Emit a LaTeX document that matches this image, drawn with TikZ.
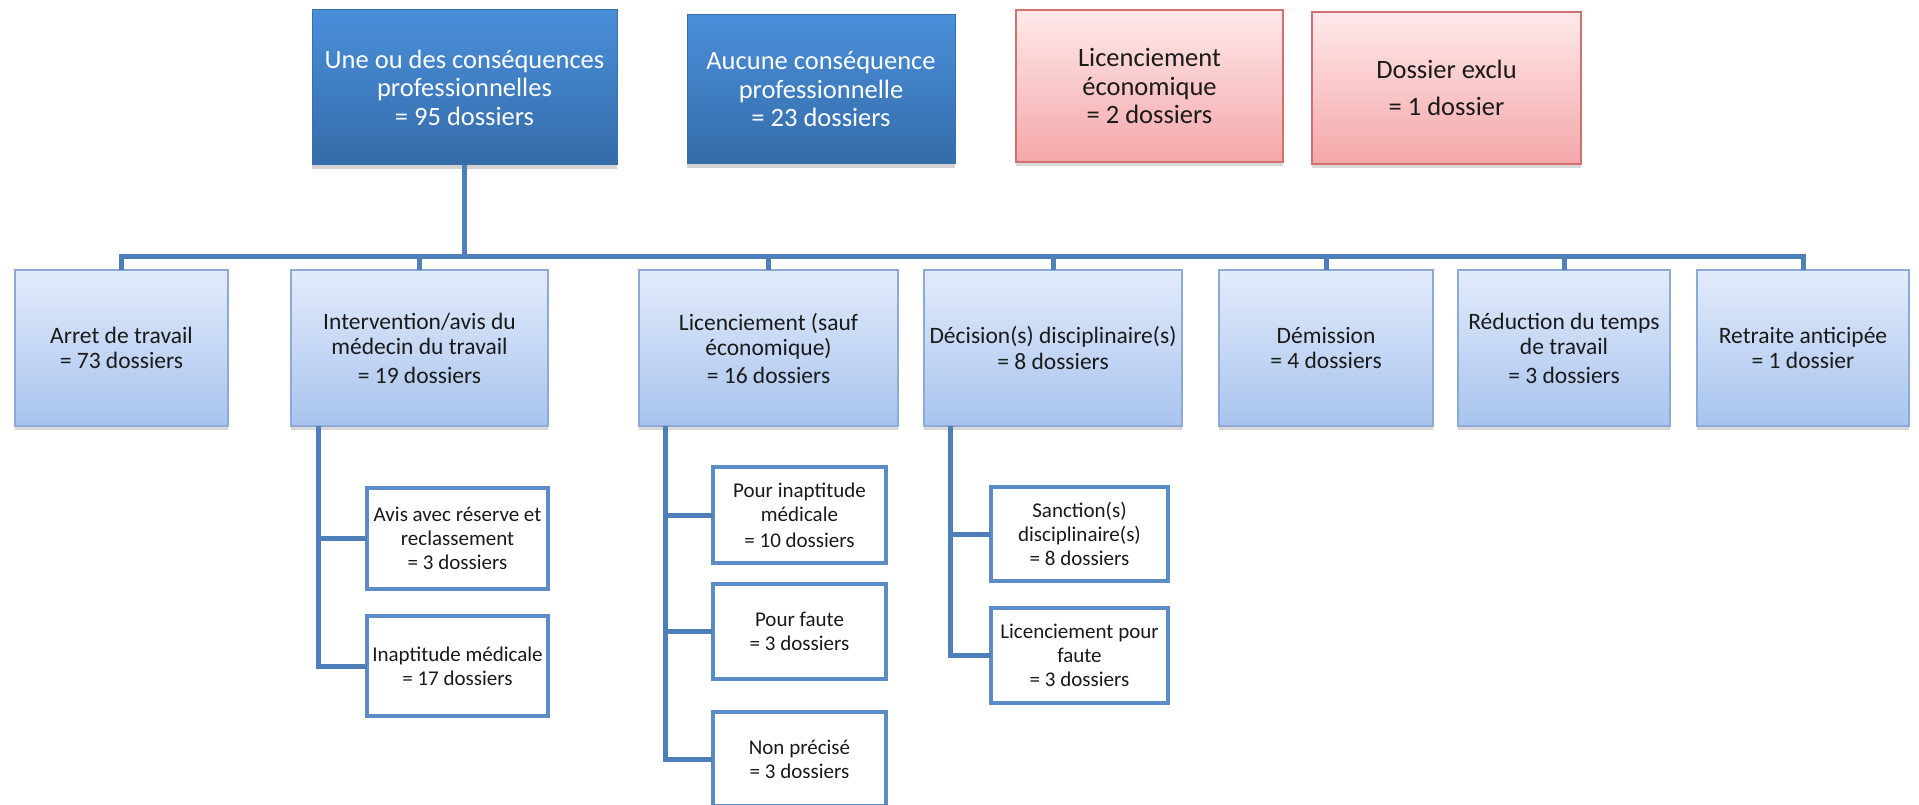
\documentclass[tikz,border=0pt]{standalone}
\usepackage{fontspec}
\setmainfont{Carlito}
\usetikzlibrary{shadows}
\definecolor{conncol}{HTML}{4F7FB9}
\definecolor{blueTop}{HTML}{4A8FDA}
\definecolor{blueBot}{HTML}{346CA9}
\definecolor{blueBorder}{HTML}{3B6FA8}
\definecolor{pinkTop}{HTML}{FFE9EB}
\definecolor{pinkBot}{HTML}{F4A7A8}
\definecolor{pinkBorder}{HTML}{D0716F}
\definecolor{lvTop}{HTML}{E2EBFB}
\definecolor{lvBot}{HTML}{A8C4EE}
\definecolor{lvBorder}{HTML}{8DAAD6}
\definecolor{subBorder}{HTML}{5B8CC6}
\definecolor{txt}{HTML}{1A1A1A}
\begin{document}
\begin{tikzpicture}[x=1pt,y=-1pt,
  conn/.style={draw=conncol,line width=5pt},
  boxbase/.style={anchor=north west,align=center,inner sep=1pt,outer sep=0pt},
  topblue/.style={boxbase,top color=blueTop,bottom color=blueBot,draw=blueBorder,line width=1pt,
     text=white,font=\fontsize{26.5}{28.5}\selectfont,
     drop shadow={opacity=0.35,shadow xshift=0pt,shadow yshift=-4pt}},
  toppink/.style={boxbase,top color=pinkTop,bottom color=pinkBot,draw=pinkBorder,line width=1.5pt,
     text=txt,font=\fontsize{26.5}{28.5}\selectfont,
     drop shadow={opacity=0.3,shadow xshift=0pt,shadow yshift=-4pt}},
  lvbox/.style={boxbase,top color=lvTop,bottom color=lvBot,draw=lvBorder,line width=1.5pt,
     text=txt,font=\fontsize{23.5}{25.5}\selectfont,
     drop shadow={opacity=0.3,shadow xshift=0pt,shadow yshift=-4pt}},
  subbox/.style={boxbase,fill=white,draw=subBorder,line width=4pt,
     text=txt,font=\fontsize{21}{24}\selectfont}
]
\useasboundingbox[fill=white] (0,0) rectangle (1919,805);

% top row
\node[topblue,minimum width=305pt,minimum height=155pt] (t1) at (312,10)
  {Une ou des conséquences\\professionnelles\\= 95 dossiers};
\node[topblue,minimum width=268pt,minimum height=149pt] (t2) at (687,15)
  {Aucune conséquence\\professionnelle\\= 23 dossiers};
\node[toppink,minimum width=267pt,minimum height=152pt] (t3) at (1016,10)
  {Licenciement\\économique\\= 2 dossiers};
\node[toppink,minimum width=269pt,minimum height=152pt] (t4) at (1312,12)
  {Dossier exclu\\[9pt]= 1 dossier};

% level 2
\node[lvbox,minimum width=213pt,minimum height=156pt] (arret) at (15,270)
  {Arret de travail\\= 73 dossiers};
\node[lvbox,minimum width=257pt,minimum height=156pt] (interv) at (291,270)
  {Intervention/avis du\\médecin du travail\\[3pt]= 19 dossiers};
\node[lvbox,minimum width=259pt,minimum height=156pt] (lic) at (639,270)
  {Licenciement (sauf\\économique)\\[2pt]= 16 dossiers};
\node[lvbox,minimum width=258pt,minimum height=156pt] (dec) at (924,270)
  {Décision(s) disciplinaire(s)\\= 8 dossiers};
\node[lvbox,minimum width=214pt,minimum height=156pt] (dem) at (1219,270)
  {Démission\\= 4 dossiers};
\node[lvbox,minimum width=212pt,minimum height=156pt] (red) at (1458,270)
  {Réduction du temps\\de travail\\[3pt]= 3 dossiers};
\node[lvbox,minimum width=212pt,minimum height=156pt] (ret) at (1697,270)
  {Retraite anticipée\\= 1 dossier};

% sub boxes
\node[subbox,minimum width=181pt,minimum height=101pt] (avis) at (367,488)
  {Avis avec réserve et\\reclassement\\= 3 dossiers};
\node[subbox,minimum width=181pt,minimum height=100pt] (inapt) at (367,616)
  {Inaptitude médicale\\= 17 dossiers};
\node[subbox,minimum width=173pt,minimum height=96pt] (pinapt) at (713,467)
  {Pour inaptitude\\médicale\\[2pt]= 10 dossiers};
\node[subbox,minimum width=173pt,minimum height=95pt] (pfaute) at (713,584)
  {Pour faute\\= 3 dossiers};
\node[subbox,minimum width=173pt,minimum height=94pt] (nonprec) at (713,712)
  {Non précisé\\= 3 dossiers};
\node[subbox,minimum width=177pt,minimum height=94pt] (sanct) at (991,487)
  {Sanction(s)\\disciplinaire(s)\\= 8 dossiers};
\node[subbox,minimum width=177pt,minimum height=95pt] (licf) at (991,608)
  {Licenciement pour\\faute\\= 3 dossiers};

% connectors
\coordinate (bus) at (0,256);
\draw[conn] (t1.south) -- (t1.south |- bus);
\draw[conn] ([xshift=-2.5pt]arret.north |- bus) -- ([xshift=2.5pt]ret.north |- bus);
\foreach \n in {arret,interv,lic,dec,dem,red,ret}
  \draw[conn] (\n.north |- bus) -- (\n.north);

\coordinate (iv) at ([xshift=27pt]interv.south west);
\draw[conn] (iv) |- (inapt.west);
\draw[conn] (iv |- avis.west) -- (avis.west);

\coordinate (lv) at ([xshift=26pt]lic.south west);
\draw[conn] (lv) |- (nonprec.west);
\draw[conn] (lv |- pinapt.west) -- (pinapt.west);
\draw[conn] (lv |- pfaute.west) -- (pfaute.west);

\coordinate (dv) at ([xshift=26pt]dec.south west);
\draw[conn] (dv) |- (licf.west);
\draw[conn] (dv |- sanct.west) -- (sanct.west);
\end{tikzpicture}
\end{document}
